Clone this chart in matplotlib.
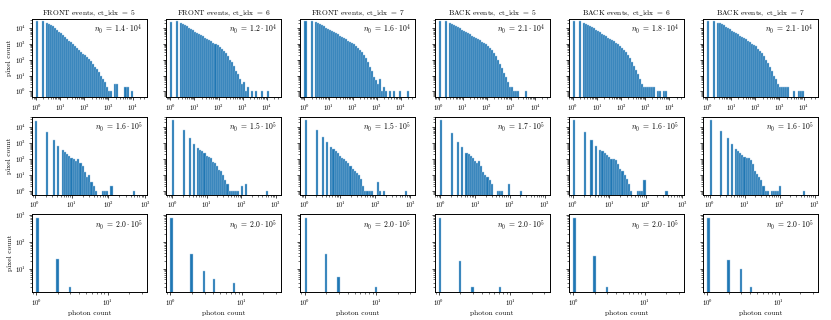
import matplotlib
matplotlib.use("Agg")
import matplotlib.pyplot as plt
import numpy as np

plt.rcParams['font.family'] = 'serif'
plt.rcParams['font.serif'] = ['cmr10', 'DejaVu Serif']
plt.rcParams['mathtext.fontset'] = 'cm'
plt.rcParams['axes.formatter.use_mathtext'] = True
plt.rcParams['axes.unicode_minus'] = False

titles = [r"$\mathrm{FRONT\ events,\ ct\_idx}\ =\ 5$", r"$\mathrm{FRONT\ events,\ ct\_idx}\ =\ 6$",
          r"$\mathrm{FRONT\ events,\ ct\_idx}\ =\ 7$", r"$\mathrm{BACK\ events,\ ct\_idx}\ =\ 5$",
          r"$\mathrm{BACK\ events,\ ct\_idx}\ =\ 6$", r"$\mathrm{BACK\ events,\ ct\_idx}\ =\ 7$"]

n0_row1 = ["1.4", "1.2", "1.6", "2.1", "1.8", "2.1"]
n0_row2 = ["1.6", "1.5", "1.5", "1.7", "1.6", "1.6"]
n0_row3 = ["2.0"] * 6
n0_exp = [4, 5, 5]

# row 1: 54 log bins from 1 to 10^4.5
row1_edges = np.logspace(0, 4.5, 55)
row1_counts = [
    [27000, 0, 0, 29000, 0, 22000, 19000, 16000, 12600, 10000, 7900, 5600, 4500, 3500, 2800, 2100, 1600, 1260,
     950, 710, 520, 400, 320, 240, 186, 141, 110, 79, 56, 35, 25, 16, 10, 6, 4, 2, 1, 1, 0, 3, 3, 0, 0, 0, 2, 2,
     0, 1, 0, 0, 0, 0, 0, 0],
    [25000, 0, 0, 28000, 0, 22000, 19000, 16000, 13000, 10500, 8500, 7000, 5800, 5000, 4200, 3600, 3000, 2500,
     2100, 1800, 1500, 1200, 1000, 800, 640, 480, 360, 260, 170, 100, 70, 40, 20, 12, 6, 3, 4, 1, 2, 0, 1, 0,
     1, 0, 0, 1, 0, 0, 1, 0, 0, 0, 0, 0],
    [28000, 0, 0, 29000, 0, 23000, 20000, 17500, 15000, 12500, 10500, 8800, 7400, 6300, 5400, 4600, 3900, 3300,
     2800, 2300, 1900, 1600, 1350, 1150, 950, 750, 560, 420, 300, 200, 120, 75, 35, 20, 8, 5, 3, 6, 1, 2, 1, 0,
     1, 0, 1, 0, 0, 1, 0, 0, 0, 1, 0, 0],
    [27000, 0, 0, 28000, 0, 22000, 19000, 16500, 14000, 11500, 9500, 7800, 6400, 5400, 4600, 3900, 3300, 2800,
     2400, 2000, 1700, 1400, 1150, 950, 760, 560, 400, 270, 170, 100, 55, 30, 15, 8, 4, 2, 2, 1, 1, 1, 0, 0,
     0, 1, 0, 0, 0, 0, 0, 0, 0, 0, 0, 0],
    [26000, 0, 0, 28000, 0, 22000, 19000, 16500, 14000, 11500, 9400, 7700, 6300, 5200, 4300, 3600, 3000, 2500,
     2100, 1750, 1450, 1200, 950, 750, 580, 430, 300, 200, 130, 75, 40, 22, 12, 6, 3, 2, 2, 2, 2, 2, 2, 0,
     1, 1, 0, 1, 1, 0, 0, 0, 0, 0, 0, 0],
    [27000, 0, 0, 28000, 0, 22000, 19500, 17000, 14500, 12000, 10000, 8200, 6800, 5600, 4700, 3900, 3300, 2800,
     2300, 1950, 1600, 1300, 1050, 850, 680, 500, 360, 250, 160, 100, 60, 35, 20, 10, 6, 3, 2, 2, 2, 2, 2, 0,
     0, 1, 0, 1, 1, 1, 0, 0, 0, 0, 0, 0],
]

# row 2: 48 log bins from 1 to 10^2.9
row2_edges = np.logspace(0, 2.9, 49)
row2_counts = [
    [25000, 0, 0, 0, 0, 5000, 0, 0, 1500, 0, 700, 0, 370, 280, 220, 160, 110, 100, 80, 100, 56, 35, 16, 8,
     10, 4, 2, 1, 0, 0, 1, 1, 1, 0, 2, 0, 0, 0, 0, 0, 0, 0, 0, 0, 1, 0, 0, 0],
    [28000, 0, 0, 0, 0, 6500, 0, 0, 2100, 0, 870, 0, 470, 380, 300, 230, 150, 135, 110, 70, 55, 35, 22, 18,
     10, 5, 3, 1, 1, 1, 1, 1, 0, 2, 0, 3, 0, 0, 0, 0, 0, 0, 0, 0, 0, 1, 0, 0],
    [28000, 0, 0, 0, 0, 6900, 0, 0, 2450, 0, 1100, 0, 590, 450, 330, 240, 150, 125, 100, 75, 60, 40, 25, 18,
     13, 10, 6, 2, 1, 1, 1, 1, 0, 0, 4, 1, 0, 1, 0, 0, 0, 0, 0, 0, 0, 0, 0, 1],
    [28000, 0, 0, 0, 0, 4300, 0, 0, 1100, 0, 600, 0, 230, 200, 150, 110, 80, 60, 75, 40, 15, 10, 8, 5,
     3, 0, 0, 1, 1, 1, 0, 0, 3, 0, 0, 0, 0, 0, 1, 0, 0, 0, 0, 0, 0, 0, 0, 0],
    [28000, 0, 0, 0, 0, 5000, 0, 0, 1600, 0, 700, 0, 370, 300, 240, 170, 130, 100, 95, 85, 50, 25, 18, 10,
     6, 3, 1, 0, 0, 1, 1, 1, 5, 0, 0, 0, 0, 0, 0, 0, 0, 0, 1, 0, 0, 0, 0, 0],
    [28000, 0, 0, 0, 0, 6000, 0, 0, 2100, 0, 900, 0, 430, 320, 250, 180, 130, 120, 115, 90, 50, 18, 12, 8,
     5, 2, 1, 1, 0, 1, 1, 1, 1, 2, 0, 0, 0, 0, 0, 0, 0, 0, 0, 0, 1, 0, 0, 0],
]

# row 3: sparse, photon values and pixel counts
row3_edges = np.logspace(0, 1.4, 41)
row3_values = [[1, 2, 3], [1, 2, 3, 4, 8], [1, 2, 3, 10], [1, 2, 3, 7], [1, 2, 3], [1, 2, 3, 4]]
row3_counts = [[800, 23, 2], [800, 35, 8, 4, 3], [800, 35, 5, 2], [800, 20, 2, 2], [800, 30, 2], [800, 22, 10, 2]]

row_xlims = [
    [(-0.17, 4.6)] * 6,
    [(-0.08, 3.05), (-0.17, 3.15), (-0.13, 3.15), (-0.16, 3.14), (-0.11, 3.04), (-0.19, 3.1)],
    [(-0.06, 1.55)] * 6,
]
row_ylims = [(0.44, 3.7e4), (0.63, 4.5e4), (1.35, 1100)]

blue = '#1f77b4'
edge = '#a6c8e3'

fig, axes = plt.subplots(3, 6, figsize=(8.31, 3.2), dpi=100, sharey='row')
fig.subplots_adjust(left=32/831, right=818/831, top=1-19/320, bottom=1-292/320, wspace=0.167, hspace=0.25)

for j in range(6):
    # row 1
    ax = axes[0, j]
    ax.bar(row1_edges[:-1], row1_counts[j], width=np.diff(row1_edges), align='edge',
           color=blue, edgecolor=edge, linewidth=0.3)
    ax.set_title(titles[j], fontsize=5.4, pad=3)
    # row 2
    ax = axes[1, j]
    ax.bar(row2_edges[:-1], row2_counts[j], width=np.diff(row2_edges), align='edge',
           color=blue, edgecolor=edge, linewidth=0.3)
    # row 3
    ax = axes[2, j]
    ax.hist(row3_values[j], bins=row3_edges, weights=row3_counts[j], color=blue, edgecolor=edge, linewidth=0.3)
    ax.set_xlabel("photon count", fontsize=5.4, labelpad=2)

n0s = [n0_row1, n0_row2, n0_row3]
for i in range(3):
    for j in range(6):
        ax = axes[i, j]
        ax.set_xscale('log')
        ax.set_yscale('log')
        lo, hi = row_xlims[i][j]
        ax.set_xlim(10**lo, 10**hi)
        ax.set_ylim(*row_ylims[i])
        label = r"$n_0\ =\ %s \cdot 10^%d$" % (n0s[i][j], n0_exp[i])
        ax.text(0.96, 0.86, label, transform=ax.transAxes, ha='right', va='center', fontsize=5.5)
        ax.tick_params(which='major', labelsize=4.8, length=2.5, width=0.5, pad=1.5)
        ax.tick_params(which='minor', length=1.5, width=0.4)
        for s in ax.spines.values():
            s.set_linewidth(0.7)
    axes[i, 0].set_ylabel("pixel count", fontsize=5.4, labelpad=2)

fig.savefig("out.png", dpi=100)
